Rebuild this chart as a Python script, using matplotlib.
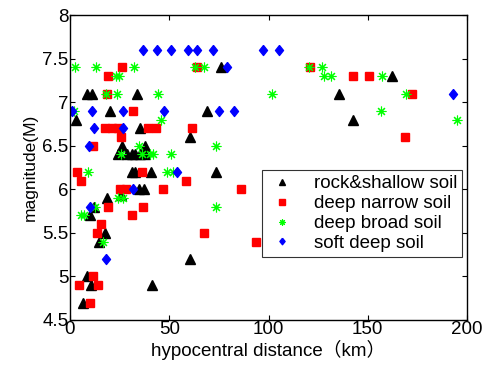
import numpy as np
import matplotlib
matplotlib.use('Agg')
import matplotlib.pyplot as plt

plt.rcParams['font.family'] = ['Liberation Sans', 'Noto Sans CJK SC', 'DejaVu Sans']

# hypocentral distance (km), magnitude (M)
rock_d = [8.4, 11.2, 33.9, 20.2, 2.9, 35.3, 60.5, 26.0, 37.8, 24.3, 28.5, 31.1,
          32.7, 35.3, 37.8, 31.1, 32.7, 40.6, 34.9, 37.4, 18.5, 25.7, 12.2, 10.1,
          17.7, 14.6, 60.5, 8.4, 10.6, 41.1, 6.4, 75.9, 69.2, 73.6, 162.4, 135.7, 142.4]
rock_m = [7.1, 7.1, 7.1, 6.9, 6.8, 6.7, 6.6, 6.5, 6.5, 6.4, 6.4, 6.4,
          6.4, 6.4, 6.4, 6.2, 6.2, 6.2, 6.0, 6.0, 5.9, 5.93, 5.8, 5.7,
          5.5, 5.4, 5.2, 5.0, 4.9, 4.9, 4.7, 7.4, 6.9, 6.2, 7.3, 7.1, 6.8]

narrow_d = [26.0, 19.0, 18.5, 31.6, 17.6, 21.0, 24.3, 39.5, 43.5, 61.3, 25.7, 11.4,
            3.4, 36.1, 5.4, 58.4, 25.2, 28.4, 46.7, 19.3, 36.9, 31.1, 15.5, 13.8,
            11.4, 4.5, 14.3, 10.1, 64.1, 120.9, 86.0, 67.5, 93.5, 142.7, 150.8,
            172.5, 168.8]
narrow_m = [7.4, 7.3, 7.1, 6.9, 6.7, 6.7, 6.7, 6.7, 6.7, 6.7, 6.6, 6.5,
            6.2, 6.2, 6.1, 6.1, 6.0, 6.0, 6.0, 5.8, 5.8, 5.7, 5.6, 5.5,
            5.0, 4.9, 4.9, 4.7, 7.4, 7.4, 6.0, 5.5, 5.4, 7.3, 7.3,
            7.1, 6.6]

broad_d = [2.5, 12.9, 32.1, 63.0, 67.5, 120.5, 126.8, 23.0, 24.5, 128.0, 131.5,
           157.0, 18.0, 23.7, 44.5, 101.6, 169.3, 2.0, 156.7, 45.8, 194.8, 34.8,
           73.6, 25.7, 36.4, 40.3, 42.0, 50.9, 9.2, 48.7, 51.7, 24.3, 26.9, 12.8,
           73.6, 5.5, 7.3, 16.5]
broad_m = [7.4, 7.4, 7.4, 7.4, 7.4, 7.4, 7.4, 7.3, 7.3, 7.3, 7.3,
           7.3, 7.1, 7.1, 7.1, 7.1, 7.1, 6.9, 6.9, 6.8, 6.8, 6.5,
           6.5, 6.4, 6.4, 6.4, 6.4, 6.4, 6.2, 6.2, 6.2, 5.9, 5.9, 5.8,
           5.8, 5.7, 5.7, 5.4]

soft_d = [36.6, 44.0, 50.9, 59.6, 64.1, 71.9, 97.4, 105.1, 78.9, 1.2, 11.2, 26.5,
          47.5, 75.2, 82.8, 12.3, 26.9, 9.7, 54.0, 31.6, 10.1, 18.0, 193.1]
soft_m = [7.6, 7.6, 7.6, 7.6, 7.6, 7.6, 7.6, 7.6, 7.4, 6.9, 6.9, 6.9,
          6.9, 6.9, 6.9, 6.7, 6.7, 6.5, 6.2, 6.0, 5.8, 5.2, 7.1]

labels = ['rock&shallow soil', 'deep narrow soil', 'deep broad soil', 'soft deep soil']

diamond = [(0, 1), (0.8, 0), (0, -1), (-0.8, 0), (0, 1)]

fig = plt.figure(figsize=(4.86, 3.69), dpi=100)
ax = fig.add_axes([0.144, 0.133, 0.817, 0.826])

ax.plot(rock_d, rock_m, linestyle='none', marker='^', ms=7.2, color='black', label=labels[0])
ax.plot(narrow_d, narrow_m, linestyle='none', marker='s', ms=5.8, color='red',
        mec='red', label=labels[1])
ax.plot(broad_d, broad_m, linestyle='none', marker=(8, 2, 0), ms=7, color='lime',
        mew=0.8, label=labels[2])
ax.plot(soft_d, soft_m, linestyle='none', marker=diamond, ms=7.2, color='blue', label=labels[3])

ax.set_xlim(0, 200)
ax.set_ylim(4.5, 8)
ax.set_xticks(np.arange(0, 201, 50))
ax.set_yticks(np.arange(4.5, 8.01, 0.5))
ax.set_yticklabels(['4.5', '5', '5.5', '6', '6.5', '7', '7.5', '8'])
ax.tick_params(direction='in', top=True, right=True, length=3.5, width=0.8,
               labelsize=13.5, pad=1)
for s in ax.spines.values():
    s.set_linewidth(1.0)

ax.set_xlabel('hypocentral distance（km）', fontsize=13.5, labelpad=1)
ax.set_ylabel('magnitude(M)', fontsize=12.5, labelpad=3)

leg = ax.legend(loc='center left', bbox_to_anchor=(0.484, 0.349), fontsize=13.5,
                frameon=True, fancybox=False, edgecolor='black', borderpad=0.25,
                handlelength=1.6, handletextpad=0.9, labelspacing=0.15,
                borderaxespad=0, markerscale=0.65)
leg.get_frame().set_linewidth(0.8)

fig.savefig('out.png', dpi=100)
